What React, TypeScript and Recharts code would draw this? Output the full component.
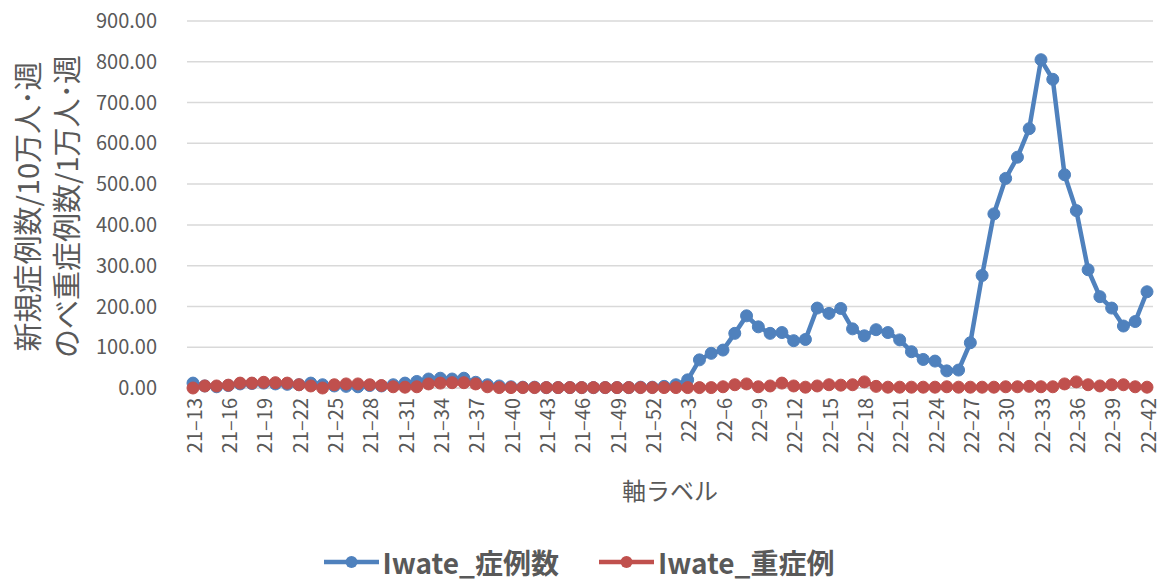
import React from 'react';
import { LineChart, Line, XAxis, YAxis, CartesianGrid, Legend } from 'recharts';

const categories = [
  '21–13','21–14','21–15','21–16','21–17','21–18','21–19','21–20','21–21','21–22',
  '21–23','21–24','21–25','21–26','21–27','21–28','21–29','21–30','21–31','21–32',
  '21–33','21–34','21–35','21–36','21–37','21–38','21–39','21–40','21–41','21–42',
  '21–43','21–44','21–45','21–46','21–47','21–48','21–49','21–50','21–51','21–52',
  '22–1','22–2','22–3','22–4','22–5','22–6','22–7','22–8','22–9','22–10',
  '22–11','22–12','22–13','22–14','22–15','22–16','22–17','22–18','22–19','22–20',
  '22–21','22–22','22–23','22–24','22–25','22–26','22–27','22–28','22–29','22–30',
  '22–31','22–32','22–33','22–34','22–35','22–36','22–37','22–38','22–39','22–40',
  '22–41','22–42',
];

const iwateCases = [
  12, 5, 3, 6, 10, 11, 12, 10, 9, 8,
  12, 8, 5, 4, 3, 6, 5, 8, 12, 16,
  22, 24, 22, 24, 14, 8, 5, 3, 2, 2,
  1, 1, 1, 1, 1, 1, 1, 1, 2, 2,
  4, 8, 20, 69, 85, 93, 134, 177, 150, 134,
  136, 116, 119, 196, 183, 195, 145, 128, 143, 136,
  118, 89, 70, 66, 42, 44, 111, 276, 427, 514,
  566, 636, 805, 757, 523, 435, 290, 224, 196, 152,
  163, 236,
];

const iwateSevere = [
  0, 5, 5, 7, 12, 12, 14, 13, 12, 8,
  5, 0, 8, 10, 10, 8, 6, 3, 2, 3,
  10, 12, 13, 13, 10, 3, 1, 1, 1, 1,
  1, 1, 1, 1, 1, 1, 1, 1, 1, 1,
  1, 1, 1, 1, 1, 3, 8, 10, 3, 5,
  12, 5, 2, 5, 8, 7, 8, 15, 4, 2,
  2, 2, 2, 2, 3, 2, 2, 2, 2, 3,
  3, 4, 3, 3, 10, 15, 8, 5, 8, 8,
  3, 2,
];

const yTicks = [0, 100, 200, 300, 400, 500, 600, 700, 800, 900];

const seriesNames = ['Iwate_症例数', 'Iwate_重症例'];
const seriesColors = ['#4F81BD', '#C0504D'];
const yTitleLines = ['新規症例数/10万人･週', 'のべ重症例数/1万人･週'];

const data = categories.map((c, i) => ({ week: c, cases: iwateCases[i], severe: iwateSevere[i] }));

const FONT = "'Noto Sans CJK JP', 'Noto Sans', sans-serif";
const TEXT = '#595959';

const XTick = (props: any) => {
  const { x, y, payload } = props;
  return (
    <g transform={`translate(${x},${y})`}>
      <text transform="rotate(-90)" textAnchor="end" dominantBaseline="central" fill={TEXT} fontSize={20} fontFamily={FONT}>
        {payload.value}
      </text>
    </g>
  );
};

const YTitle = (props: any) => {
  const { viewBox } = props;
  const cy = viewBox.y + viewBox.height / 2;
  const x0 = viewBox.x;
  return (
    <g fill={TEXT} fontSize={29} fontFamily={FONT}>
      <text transform={`translate(${x0 + 26},${cy + 2}) rotate(-90)`} textAnchor="middle" dominantBaseline="central">
        {yTitleLines[0]}
      </text>
      <text transform={`translate(${x0 + 65},${cy + 2}) rotate(-90)`} textAnchor="middle" dominantBaseline="central">
        {yTitleLines[1]}
      </text>
    </g>
  );
};

const LegendContent = () => (
  <div style={{ height: 74, width: 1158, boxSizing: 'border-box', paddingTop: 36, display: 'flex', justifyContent: 'center', fontFamily: FONT }}>
    {seriesNames.map((n, i) => (
      <div key={n} style={{ display: 'flex', alignItems: 'center', height: 36, marginLeft: i === 0 ? 0 : 40 }}>
        <svg width={55} height={20}>
          <line x1={0} y1={10} x2={55} y2={10} stroke={seriesColors[i]} strokeWidth={4.5} />
          <circle cx={27.5} cy={10} r={6} fill={seriesColors[i]} />
        </svg>
        <span style={{ marginLeft: 4, fontSize: 28, fontWeight: 700, color: TEXT, lineHeight: '36px' }}>{n}</span>
      </div>
    ))}
  </div>
);

export default function App() {
  return (
    <div style={{ position: 'absolute', left: 0, top: 0, width: 1158, height: 582, background: '#fff' }}>
      <LineChart width={1158} height={582} data={data} margin={{ top: 21, right: 5, bottom: 0, left: 0 }}>
        <CartesianGrid vertical={false} stroke="#d9d9d9" strokeWidth={1.5} />
        <XAxis
          dataKey="week"
          interval={2}
          tick={<XTick />}
          tickLine={false}
          axisLine={{ stroke: '#d9d9d9', strokeWidth: 1.5 }}
          tickSize={4}
          tickMargin={6}
          height={120}
          padding={{ left: 6, right: 6 }}
          label={{ value: '軸ラベル', position: 'insideBottom', offset: 8, fill: TEXT, fontSize: 24, fontFamily: FONT }}
        />
        <YAxis
          domain={[0, 900]}
          ticks={yTicks}
          tickFormatter={(v: number) => v.toFixed(2)}
          axisLine={false}
          tickLine={false}
          tickSize={8}
          tickMargin={22}
          width={187}
          tick={{ fill: TEXT, fontSize: 20, fontFamily: FONT }}
          label={<YTitle />}
        />
        <Legend verticalAlign="bottom" content={<LegendContent />} wrapperStyle={{ left: 0, width: 1158 }} />
        <Line
          type="linear"
          dataKey="cases"
          name={seriesNames[0]}
          stroke={seriesColors[0]}
          strokeWidth={4.5}
          dot={{ r: 6, fill: seriesColors[0], stroke: seriesColors[0], strokeWidth: 1 }}
          activeDot={false}
          isAnimationActive={false}
        />
        <Line
          type="linear"
          dataKey="severe"
          name={seriesNames[1]}
          stroke={seriesColors[1]}
          strokeWidth={4.5}
          dot={{ r: 6, fill: seriesColors[1], stroke: seriesColors[1], strokeWidth: 1 }}
          activeDot={false}
          isAnimationActive={false}
        />
      </LineChart>
    </div>
  );
}
